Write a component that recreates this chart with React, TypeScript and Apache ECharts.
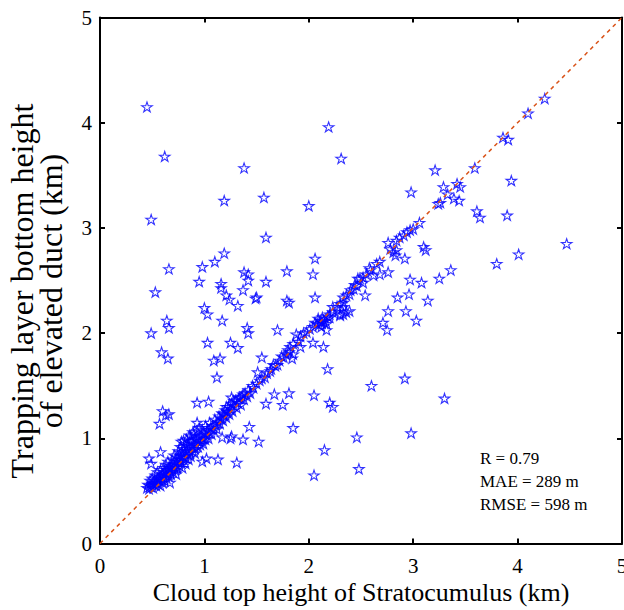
import React, { useEffect, useRef } from "react";
import * as echarts from "echarts";

// Tick values shared by both axes (km)
const axisTicks = [0, 1, 2, 3, 4, 5];

// Points lying close to the 1:1 line (x: cloud top height, y: trapping layer bottom height), km
const nearDiagonalLow: number[][] = [
  [0.45, 0.53], [0.46, 0.56], [0.47, 0.52], [0.48, 0.55], [0.48, 0.6], [0.49, 0.54], [0.5, 0.57], [0.5, 0.62],
  [0.51, 0.53], [0.52, 0.56], [0.52, 0.6], [0.53, 0.65], [0.54, 0.55], [0.54, 0.58], [0.55, 0.62], [0.55, 0.68],
  [0.56, 0.57], [0.57, 0.6], [0.57, 0.64], [0.58, 0.55], [0.58, 0.7], [0.59, 0.62], [0.6, 0.58], [0.6, 0.66],
  [0.61, 0.63], [0.61, 0.72], [0.62, 0.6], [0.62, 0.68], [0.63, 0.65], [0.63, 0.75], [0.64, 0.62], [0.64, 0.7],
  [0.65, 0.67], [0.65, 0.78], [0.66, 0.64], [0.66, 0.72], [0.67, 0.69], [0.67, 0.58], [0.68, 0.74], [0.68, 0.66],
  [0.69, 0.8], [0.69, 0.71], [0.7, 0.68], [0.7, 0.76], [0.71, 0.73], [0.71, 0.84], [0.72, 0.7], [0.72, 0.79],
  [0.73, 0.75], [0.73, 0.66], [0.74, 0.82], [0.74, 0.72], [0.75, 0.78], [0.75, 0.88],
];

const nearDiagonalMid: number[][] = [
  [0.76, 0.74], [0.76, 0.84], [0.77, 0.8], [0.77, 0.92], [0.78, 0.77], [0.78, 0.87], [0.79, 0.83], [0.79, 0.72],
  [0.8, 0.9], [0.8, 0.8], [0.81, 0.86], [0.81, 0.95], [0.82, 0.82], [0.82, 0.76], [0.83, 0.88], [0.83, 0.99],
  [0.84, 0.85], [0.84, 0.93], [0.85, 0.8], [0.85, 0.9], [0.86, 0.96], [0.86, 0.87], [0.87, 1.02], [0.87, 0.83],
  [0.88, 0.92], [0.88, 0.98], [0.89, 0.88], [0.9, 0.95], [0.9, 1.04], [0.91, 0.9], [0.91, 0.86], [0.92, 0.99],
  [0.92, 0.94], [0.93, 1.07], [0.94, 0.92], [0.94, 1.0], [0.95, 0.97], [0.95, 1.1], [0.96, 0.94], [0.97, 1.02],
  [0.97, 0.98], [0.98, 1.08], [0.99, 1.0], [0.99, 0.95], [1.0, 1.05], [1.01, 1.12], [1.01, 0.99], [1.02, 1.03],
  [1.03, 1.08], [1.04, 1.0], [1.05, 1.06], [1.05, 1.15],
  [1.06, 1.1], [1.07, 1.04], [1.08, 1.12], [1.09, 1.08], [1.1, 1.18], [1.11, 1.13], [1.12, 1.09], [1.13, 1.16],
  [1.14, 1.21], [1.15, 1.14], [1.16, 1.19], [1.17, 1.24], [1.18, 1.17], [1.19, 1.22], [1.2, 1.27], [1.21, 1.2],
  [1.22, 1.25], [1.23, 1.3], [1.24, 1.23], [1.25, 1.28], [1.26, 1.33], [1.27, 1.26], [1.28, 1.31], [1.3, 1.36],
  [1.31, 1.29], [1.32, 1.34], [1.33, 1.38], [1.35, 1.32], [1.36, 1.4], [1.38, 1.37], [1.39, 1.43], [1.41, 1.4],
  [1.42, 1.46], [1.44, 1.43], [1.18, 1.23], [1.21, 1.3], [1.26, 1.39], [1.28, 1.36], [1.34, 1.39], [1.37, 1.42],
];

const nearDiagonalHigh: number[][] = [
  [1.46, 1.5], [1.47, 1.48], [1.5, 1.52], [1.53, 1.55], [1.55, 1.57], [1.58, 1.58], [1.6, 1.62], [1.63, 1.64],
  [1.64, 1.66], [1.66, 1.7], [1.68, 1.69], [1.7, 1.7], [1.72, 1.74], [1.74, 1.78], [1.76, 1.77], [1.78, 1.8],
  [1.8, 1.84], [1.81, 1.82], [1.82, 1.87], [1.84, 1.76], [1.85, 1.8], [1.85, 1.9], [1.88, 1.99], [1.9, 1.92],
  [1.92, 1.97], [1.92, 1.87], [1.95, 2.0], [1.98, 2.01], [2.01, 2.04], [2.04, 2.06], [2.04, 1.91], [2.06, 2.1],
  [2.08, 2.09], [2.09, 2.14], [2.1, 2.08], [2.11, 2.12], [2.12, 2.1], [2.12, 2.06], [2.13, 2.15], [2.14, 2.12],
  [2.16, 2.12], [2.17, 2.09], [2.17, 2.03], [2.18, 2.16], [2.2, 2.18], [2.2, 2.15], [2.23, 2.2], [2.23, 2.25],
  [2.27, 2.25], [2.3, 2.28], [2.3, 2.17], [2.3, 2.18], [2.33, 2.29], [2.33, 2.25], [2.33, 2.18], [2.33, 2.34],
  [2.36, 2.2], [2.36, 2.36], [2.39, 2.21], [2.39, 2.37], [2.4, 2.41], [2.43, 2.42], [2.44, 2.46], [2.46, 2.45],
  [2.47, 2.52], [2.49, 2.52], [2.52, 2.48], [2.52, 2.53], [2.54, 2.36], [2.55, 2.56], [2.58, 2.62], [2.59, 2.6],
  [2.62, 2.55], [2.65, 2.66], [2.68, 2.56], [2.68, 2.68], [2.76, 2.58], [2.76, 2.86], [2.78, 2.8], [2.81, 2.77],
  [2.83, 2.74], [2.84, 2.79], [2.84, 2.88], [2.87, 2.91], [2.91, 2.93], [2.92, 2.71], [2.94, 2.96], [2.97, 2.98],
  [3.0, 2.99], [3.06, 3.05], [3.24, 3.23], [3.26, 3.24], [3.29, 3.39], [3.33, 3.32], [3.39, 3.28], [3.42, 3.42],
  [3.45, 3.39], [3.44, 3.26], [3.59, 3.57], [3.86, 3.86], [3.91, 3.84], [4.1, 4.09], [4.26, 4.23],
];

// Points well above the 1:1 line
const outliersAbove: number[][] = [
  [0.45, 4.15], [0.62, 3.68], [2.19, 3.96], [2.31, 3.66], [1.38, 3.57], [1.19, 3.26], [1.57, 3.29], [2.0, 3.21],
  [0.49, 3.08], [1.59, 2.91], [1.19, 2.76], [2.06, 2.71], [0.66, 2.61], [0.98, 2.63], [1.1, 2.68], [1.38, 2.58],
  [1.42, 2.56], [1.42, 2.5], [1.79, 2.59], [2.04, 2.56], [0.95, 2.49], [1.16, 2.47], [1.16, 2.43], [1.59, 2.49],
  [0.53, 2.39], [1.37, 2.41], [1.21, 2.36], [1.24, 2.32], [1.49, 2.33], [1.5, 2.34], [1.79, 2.31], [1.81, 2.29],
  [2.06, 2.34], [1.32, 2.26], [1.0, 2.24], [1.03, 2.18], [0.64, 2.12], [0.66, 2.05], [0.49, 2.0], [1.17, 2.12],
  [1.41, 2.05], [1.42, 2.0], [1.7, 2.03], [1.03, 1.91], [1.25, 1.91], [1.32, 1.86], [0.59, 1.82], [0.65, 1.76],
  [1.09, 1.74], [1.15, 1.76], [1.55, 1.77], [1.12, 1.58], [1.51, 1.63], [3.21, 3.55], [3.94, 3.45], [2.98, 3.34],
  [0.93, 1.34], [1.04, 1.35], [0.93, 1.15], [0.6, 1.26], [0.66, 1.23], [0.63, 1.22], [0.57, 1.14], [0.58, 0.87],
  [0.47, 0.81], [0.49, 0.76], [0.78, 0.97], [0.8, 0.98], [0.86, 1.03], [0.89, 1.06],
];

// Points well below the 1:1 line
const outliersBelow: number[][] = [
  [3.61, 3.16], [3.64, 3.1], [3.9, 3.12], [3.1, 2.82], [3.12, 2.79], [4.47, 2.85], [4.01, 2.75], [3.8, 2.66],
  [3.36, 2.6], [2.97, 2.51], [3.08, 2.48], [3.25, 2.52], [2.85, 2.34], [2.96, 2.37], [3.14, 2.31], [2.76, 2.21],
  [2.93, 2.21], [2.71, 2.1], [2.75, 2.03], [3.03, 2.12], [2.14, 1.87], [2.18, 1.66], [1.67, 1.42], [1.81, 1.43],
  [2.05, 1.41], [1.59, 1.33], [1.75, 1.32], [2.2, 1.34], [2.23, 1.3], [1.85, 1.1], [2.46, 1.01], [2.15, 0.89],
  [2.05, 0.65], [2.48, 0.71], [2.98, 1.05], [2.6, 1.5], [2.92, 1.57], [3.3, 1.38], [1.43, 1.11], [1.37, 0.99],
  [1.52, 0.97], [1.31, 0.77], [1.13, 0.8], [1.02, 0.81], [0.98, 0.78], [1.26, 1.02], [1.17, 1.01], [1.25, 1.0],
];

// 1:1 reference line end points
const oneToOne: number[][] = [[0, 0], [5, 5]];

const statsLines = ["R = 0.79", "MAE = 289 m", "RMSE = 598 m"];
const xAxisTitle = "Cloud top height of Stratocumulus (km)";
const yAxisTitle = ["Trapping layer bottom height", "of elevated duct (km)"];

const STAR =
  "path://M50,0 L61.2,34.5 L97.6,34.5 L68.2,55.9 L79.4,90.5 L50,69.1 L20.6,90.5 L31.8,55.9 L2.4,34.5 L38.8,34.5 Z";

const FONT = "'Liberation Serif', 'DejaVu Serif', serif";

export default function App() {
  const ref = useRef<HTMLDivElement>(null);

  useEffect(() => {
    document.body.style.margin = "0";
    if (!ref.current) return;
    const chart = echarts.init(ref.current, undefined, { renderer: "svg" });

    const points = [...nearDiagonalLow, ...nearDiagonalMid, ...nearDiagonalHigh, ...outliersAbove, ...outliersBelow];

    const baseAxis = {
      type: "value" as const,
      min: axisTicks[0],
      max: axisTicks[axisTicks.length - 1],
      interval: 1,
      splitLine: { show: false },
      axisLine: { show: true, onZero: false, lineStyle: { color: "#000", width: 2 } },
      axisTick: { show: true, inside: true, length: 5, lineStyle: { color: "#000", width: 2 } },
    };

    chart.setOption({
      animation: false,
      grid: {
        left: 100,
        top: 17.5,
        width: 522,
        height: 526,
        containLabel: false,
        outerBoundsMode: "none",
      },
      xAxis: [
        {
          ...baseAxis,
          position: "bottom",
          axisLabel: { show: true, margin: 12, color: "#000", fontSize: 21, fontFamily: FONT },
        },
        { ...baseAxis, position: "top", axisLabel: { show: false } },
      ],
      yAxis: [
        {
          ...baseAxis,
          position: "left",
          axisLabel: { show: true, margin: 8, color: "#000", fontSize: 21, fontFamily: FONT },
        },
        { ...baseAxis, position: "right", axisLabel: { show: false } },
      ],
      series: [
        {
          type: "scatter",
          data: points,
          symbol: STAR,
          symbolKeepAspect: true,
          symbolSize: 10.5,
          itemStyle: { color: "rgba(0,0,0,0)", borderColor: "#0000ff", borderWidth: 1.1 },
          z: 2,
        },
        {
          type: "line",
          data: oneToOne,
          symbol: "none",
          lineStyle: { color: "#D95319", width: 1.5, type: [4, 4] },
          z: 3,
        },
      ],
      graphic: [
        {
          type: "text",
          x: 361,
          y: 592,
          style: {
            text: xAxisTitle,
            font: `26px ${FONT}`,
            fill: "#000",
            textAlign: "center",
            textVerticalAlign: "middle",
          },
        },
        {
          type: "text",
          x: 36,
          y: 291,
          rotation: Math.PI / 2,
          style: {
            text: yAxisTitle.join("\n"),
            font: `32px ${FONT}`,
            lineHeight: 29,
            fill: "#000",
            textAlign: "center",
            textVerticalAlign: "middle",
          },
        },
        ...statsLines.map((t, i) => ({
          type: "text",
          x: 480,
          y: 458 + i * 23,
          style: {
            text: t,
            font: `17px ${FONT}`,
            fill: "#000",
            textAlign: "left",
            textVerticalAlign: "middle",
          },
        })),
      ],
    });

    return () => chart.dispose();
  }, []);

  return <div ref={ref} style={{ width: 624, height: 610 }} />;
}
